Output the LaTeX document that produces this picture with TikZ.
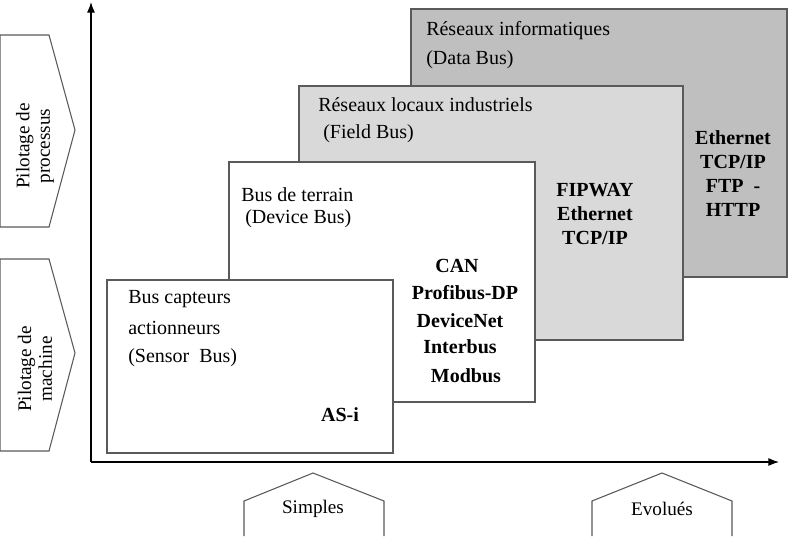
\documentclass[tikz,border=0pt]{standalone}
\usepackage{fontspec}
\setmainfont{Liberation Serif}
\usetikzlibrary{arrows.meta}
\definecolor{dbg}{RGB}{191,191,191}
\definecolor{lbg}{RGB}{217,217,217}
\definecolor{edge}{RGB}{90,90,90}
\begin{document}
\begin{tikzpicture}[x=0.75pt,y=-0.75pt,
  panel/.style={draw=edge,line width=0.8pt},
  lbl/.style={anchor=west,inner sep=0pt,font=\fontsize{15}{17}\selectfont},
  bl/.style={inner sep=0pt,font=\fontsize{15}{17}\selectfont\bfseries,align=center},
  tag/.style={draw=edge,line width=0.8pt,fill=white},
  tagtxt/.style={inner sep=0pt,font=\fontsize{14.4}{15.5}\selectfont,align=center}]
\useasboundingbox (0,0) rectangle (789,536);
% panels
\draw[panel,fill=dbg] (411,9) rectangle (787,277);
\draw[panel,fill=lbg] (299,86) rectangle (683,340);
\draw[panel,fill=white] (229,162) rectangle (535,402);
\draw[panel,fill=white] (107,280) rectangle (393,453);
% axes
\coordinate (o) at (91,462);
\coordinate (ytop) at (91,2);
\coordinate (xend) at (779,462);
\draw[line width=0.8pt,-{Latex[length=8pt,width=6pt]}] (o) -- (ytop);
\draw[line width=0.8pt,-{Latex[length=8pt,width=6pt]}] (o) -- (xend);
% panel texts
\node[lbl] (t4a) at (426,31) {Réseaux informatiques};
\node[lbl] (t4b) at (426,60) {(Data Bus)};
\node[lbl] (t3a) at (318,105) {Réseaux locaux industriels};
\node[lbl] (t3b) at (323,134) {(Field Bus)};
\node[lbl] (t2a) at (241,195) {Bus de terrain};
\node[lbl] (t2b) at (245,219) {(Device Bus)};
\node[lbl] (t1a) at (128,299) {Bus capteurs};
\node[lbl] (t1b) at (128,328) {actionneurs};
\node[lbl] (t1c) at (128,358) {(Sensor\ \ Bus)};
\node[bl] (asi) at (340,415) {AS-i};
\node[bl] (can) at (457,266) {CAN};
\node[bl] (pdp) at (465,293) {Profibus-DP};
\node[bl] (dnet) at (460,321) {DeviceNet};
\node[bl] (ibus) at (460,347) {Interbus};
\node[bl] (mbus) at (466,376) {Modbus};
\node[bl] (fip) at (595,190) {FIPWAY};
\node[bl] (eth1) at (595,214) {Ethernet};
\node[bl] (tcp1) at (595,238) {TCP/IP};
\node[bl] (eth2) at (733,138) {Ethernet};
\node[bl] (tcp2) at (733,162) {TCP/IP};
\node[bl] (ftp) at (733,186) {FTP\ \ -};
\node[bl] (http) at (733,210) {HTTP};
% left tags
\draw[tag] (0,35) -- (49,35) -- (75,130) -- (49,227) -- (0,227) -- cycle;
\draw[tag] (0,259) -- (49,259) -- (75,353) -- (49,451) -- (0,451) -- cycle;
\node[tagtxt,rotate=90] (pp) at (35,146) {Pilotage de\\processus};
\node[tagtxt,rotate=90] (pm) at (35,369) {Pilotage de\\machine};
% bottom tags
\draw[tag] (244,536) -- (244,501) -- (313,473) -- (384,501) -- (384,536);
\draw[tag] (592,536) -- (592,501) -- (662,473) -- (732,501) -- (732,536);
\node[tagtxt] (simp) at (313,509) {Simples};
\node[tagtxt] (evol) at (662,509) {Evolués};
\end{tikzpicture}
\end{document}
